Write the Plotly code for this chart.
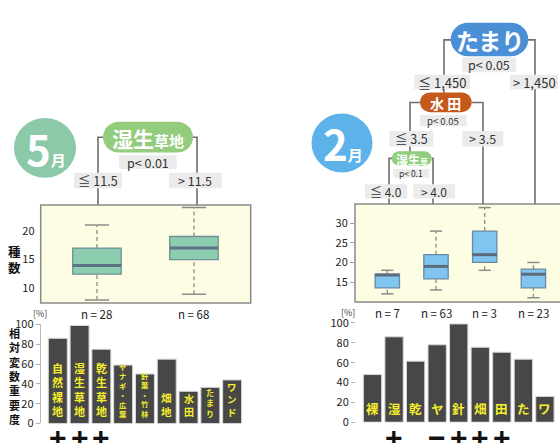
import plotly.graph_objects as go

W, H = 560, 443

# ---- May: species count by wet-grassland split ----
may_n = ["n = 28", "n = 68"]
may_pos = [1, 2]
may_low = [8, 9]
may_q1 = [12.5, 15]
may_med = [14, 17]
may_q3 = [17, 19]
may_high = [21, 24]

# ---- February: species count by tree leaves ----
feb_n = ["n = 7", "n = 63", "n = 3", "n = 23"]
feb_pos = [1, 2, 3, 4]
feb_low = [12, 13, 18, 11]
feb_q1 = [13.5, 15.8, 20, 13.5]
feb_med = [16.8, 19, 22, 17]
feb_q3 = [17, 22, 28, 18.3]
feb_high = [18, 28, 34, 20]

# ---- relative variable importance [%] ----
may_vars = ["自然裸地", "湿生草地", "乾生草地", "ヤナギ・広葉", "針葉・竹林", "畑地", "水田", "たまり", "ワンド"]
may_imp = [86, 99, 75, 59, 50, 65, 32.5, 36.5, 44]
may_sign = ["+", "+", "+", "", "", "", "", "", ""]

feb_vars = ["裸", "湿", "乾", "ヤ", "針", "畑", "田", "た", "ワ"]
feb_imp = [48, 86, 61.5, 78, 99, 75.5, 70.5, 63.5, 26]
feb_sign = ["", "+", "", "−", "+", "+", "+", "", ""]

# font sizes of the vertical names inside the May bars
may_label_size = [11, 11, 11, 7.3, 7.3, 10.5, 10, 8, 9.5]

FONT = "Noto Sans CJK JP"
YELLOW = "#f4ee2c"


def px(x):
    return x / W


def py(y):
    return 1 - y / H


fig = go.Figure()


def add_boxes(pos, lo, q1, med, q3, hi, fill, edge, medc, xa, ya, half=0.25):
    fig.add_trace(go.Box(
        x=pos, q1=q1, median=med, q3=q3, lowerfence=q1, upperfence=q3,
        width=2 * half, whiskerwidth=0, fillcolor=fill,
        line=dict(color=edge, width=1.3), boxpoints=False,
        hoverinfo="skip", xaxis=xa, yaxis=ya))
    wx, wy, cx, cy, mx, my = [], [], [], [], [], []
    cap = half * 0.5
    for p, a, b, m, c, d in zip(pos, lo, q1, med, q3, hi):
        wx += [p, p, None, p, p, None]
        wy += [a, b, None, c, d, None]
        cx += [p - cap, p + cap, None, p - cap, p + cap, None]
        cy += [a, a, None, d, d, None]
        mx += [p - half, p + half, None]
        my += [m, m, None]
    fig.add_trace(go.Scatter(x=wx, y=wy, mode="lines", xaxis=xa, yaxis=ya,
                             line=dict(color="#8c8c8c", width=1.3, dash="4px,3px"),
                             hoverinfo="skip"))
    fig.add_trace(go.Scatter(x=cx, y=cy, mode="lines", xaxis=xa, yaxis=ya,
                             line=dict(color="#8c8c8c", width=1.5), hoverinfo="skip"))
    fig.add_trace(go.Scatter(x=mx, y=my, mode="lines", xaxis=xa, yaxis=ya,
                             line=dict(color=medc, width=3), hoverinfo="skip"))


add_boxes(may_pos, may_low, may_q1, may_med, may_q3, may_high,
          "#8dceb0", "#6f8f98", "#5d7383", "x", "y")
add_boxes(feb_pos, feb_low, feb_q1, feb_med, feb_q3, feb_high,
          "#80c4f0", "#6a8aa2", "#5c6c7c", "x3", "y3")

fig.add_trace(go.Bar(x=list(range(len(may_imp))), y=may_imp, width=0.87,
                     marker=dict(color="#474747", line=dict(color="#d8d8d8", width=1)),
                     xaxis="x2", yaxis="y2", hoverinfo="skip"))
fig.add_trace(go.Bar(x=list(range(len(feb_imp))), y=feb_imp, width=0.85,
                     marker=dict(color="#474747", line=dict(color="#d8d8d8", width=1)),
                     xaxis="x4", yaxis="y4", hoverinfo="skip"))

tickfont = dict(family=FONT, size=11, color="#222")
hidden_x = dict(showticklabels=False, showgrid=False, zeroline=False, showline=False, ticks="")

fig.update_layout(
    width=W, height=H, margin=dict(l=0, r=0, t=0, b=0),
    paper_bgcolor="white", plot_bgcolor="rgba(0,0,0,0)", showlegend=False,
    font=dict(family=FONT),
    xaxis=dict(domain=[px(40.7), px(250.7)], range=[0.42, 2.585], anchor="y", **hidden_x),
    yaxis=dict(domain=[py(305), py(203.3)], range=[7.5, 24.45], tickvals=[10, 15, 20], anchor="x",
               showgrid=False, zeroline=False, ticks="outside", ticklen=3,
               tickcolor="rgba(0,0,0,0)", tickfont=tickfont),
    xaxis2=dict(domain=[px(40.7), px(250)], range=[-0.784, 8.82], anchor="y2", **hidden_x),
    yaxis2=dict(domain=[py(430), py(327.3)], range=[0, 100], tickvals=[0, 20, 40, 60, 80, 100],
                anchor="x2", showgrid=False, zeroline=False, showline=True, linecolor="#b8b8b8",
                linewidth=1, ticks="outside", ticklen=4, tickcolor="#b0b0b0", tickfont=tickfont),
    xaxis3=dict(domain=[px(355), 1], range=[0.337, 4.546], anchor="y3", **hidden_x),
    yaxis3=dict(domain=[py(304), py(202.3)], range=[9.91, 34.92], tickvals=[15, 20, 25, 30],
                anchor="x3", showgrid=False, zeroline=False, ticks="outside", ticklen=4,
                tickcolor="#a0a0a0", tickfont=tickfont),
    xaxis4=dict(domain=[px(356), 1], range=[-0.766, 8.70], anchor="y4", **hidden_x),
    yaxis4=dict(domain=[py(428.7), py(325.7)], range=[0, 100], tickvals=[0, 20, 40, 60, 80, 100],
                anchor="x4", showgrid=False, zeroline=False, showline=False,
                ticks="outside", ticklen=4, tickcolor="#b0b0b0", tickfont=tickfont),
)

shapes = []
annotations = []


def note(**kw):
    kw.setdefault("showarrow", False)
    kw.setdefault("xanchor", "center")
    kw.setdefault("yanchor", "middle")
    annotations.append(kw)


# cream panels behind the box plots
shapes.append(dict(type="rect", xref="x domain", yref="y domain", x0=0, x1=1, y0=0, y1=1,
                   fillcolor="#fdfde3", line=dict(color="#8a8a8a", width=1.5), layer="below"))
shapes.append(dict(type="rect", xref="x3 domain", yref="y3 domain", x0=0, x1=1.1, y0=0, y1=1,
                   fillcolor="#fdfde3", line=dict(color="#8a8a8a", width=1.5), layer="below"))

# tree branches (pixel paths)
branches = [
    [(103, 133), (98, 133), (98, 203)],
    [(193, 133), (197, 133), (197, 203)],
    [(451, 32), (444, 32), (444, 87)],
    [(528, 32), (535, 32), (535, 202)],
    [(420, 97), (410, 97), (410, 148)],
    [(472, 97), (483, 97), (483, 202)],
    [(392, 155), (389, 155), (389, 202)],
    [(432, 155), (433, 155), (433, 202)],
]
for pts in branches:
    path = "M " + " L ".join(f"{px(x):.5f},{py(y):.5f}" for x, y in pts)
    shapes.append(dict(type="path", xref="paper", yref="paper", path=path,
                       line=dict(color="#6e6e6e", width=1.6), layer="above"))

# split condition labels: (x0, y0, x1, y1, text, size)
split_labels = [
    (119, 151.7, 176.7, 166, "p< 0.01", 12.5),
    (74, 170, 122, 186, "≦ 11.5", 12.5),
    (169, 170, 221.7, 186, "> 11.5", 12.5),
    (462.3, 50, 516, 65.7, "p< 0.05", 12.5),
    (414.3, 68.3, 470, 83.3, "≦ 1,450", 13),
    (510, 68.3, 558, 83.3, "> 1,450", 13),
    (420, 110, 466.7, 121.7, "p< 0.05", 9.5),
    (389.3, 126.7, 433.3, 142.7, "≦ 3.5", 12.5),
    (462.3, 126.7, 503.3, 142.7, "> 3.5", 12.5),
    (393.3, 166, 429.3, 175, "p< 0.1", 8.5),
    (365, 181.7, 407.3, 196.7, "≦ 4.0", 12),
    (413.3, 181.7, 455, 196.7, "> 4.0", 12),
]
for x0, y0, x1, y1, t, s in split_labels:
    shapes.append(dict(type="rect", xref="paper", yref="paper",
                       x0=px(x0), x1=px(x1), y0=py(y1), y1=py(y0),
                       fillcolor="#ebebeb", line=dict(width=0), layer="above"))
    note(xref="paper", yref="paper", x=px((x0 + x1) / 2), y=py((y0 + y1) / 2),
         text=t, font=dict(family=FONT, size=s, color="#333"))


def pill(x0, y0, x1, y1):
    r = (y1 - y0) / 2
    ym = (y0 + y1) / 2
    k = 0.5523 * r
    pts = [
        ("M", [(x0 + r, y0)]),
        ("L", [(x1 - r, y0)]),
        ("C", [(x1 - r + k, y0), (x1, ym - k), (x1, ym)]),
        ("C", [(x1, ym + k), (x1 - r + k, y1), (x1 - r, y1)]),
        ("L", [(x0 + r, y1)]),
        ("C", [(x0 + r - k, y1), (x0, ym + k), (x0, ym)]),
        ("C", [(x0, ym - k), (x0 + r - k, y0), (x0 + r, y0)]),
    ]
    s = ""
    for cmd, ps in pts:
        s += cmd + " " + " ".join(f"{px(x):.5f},{py(y):.5f}" for x, y in ps) + " "
    return s + "Z"


# node pills: (x0, y0, x1, y1, colour, html text, base size)
nodes = [
    (103, 117, 193, 149, "#93cc7c",
     "<b>湿生</b><span style='font-size:15px'><b>草地</b></span>", 21),
    (450.7, 14.3, 528.3, 49, "#4b90d6", "<b>たまり</b>", 23),
    (420, 86.7, 471.7, 107, "#c5581a", "<b>水 田</b>", 14),
    (391.7, 147.7, 431.7, 162.7, "#8fcf7e",
     "<b>湿生</b><span style='font-size:8px'><b>草</b></span>", 12),
]
for x0, y0, x1, y1, col, t, s in nodes:
    shapes.append(dict(type="path", xref="paper", yref="paper", path=pill(x0, y0, x1, y1),
                       fillcolor=col, line=dict(width=0), layer="above"))
    note(xref="paper", yref="paper", x=px((x0 + x1) / 2), y=py((y0 + y1) / 2 + 1),
         text=t, font=dict(family=FONT, size=s, color="white"))

# month badges
for cx, cy, r, col, num in [(45, 144, 31, "#8bc9a9", "5"), (342, 139, 30.5, "#5eb2ea", "2")]:
    shapes.append(dict(type="circle", xref="paper", yref="paper",
                       x0=px(cx - r), x1=px(cx + r), y0=py(cy + r), y1=py(cy - r),
                       fillcolor=col, line=dict(width=0), layer="above"))
    note(xref="paper", yref="paper", x=px(cx + 1), y=py(cy),
         text=f"<b>{num}</b><span style='font-size:15px'><b>月</b></span>",
         font=dict(family=FONT, size=42, color="white"))

# axis titles
note(xref="paper", yref="paper", x=px(14), y=py(260), text="<b>種<br>数</b>",
     font=dict(family=FONT, size=12.5, color="#111"))
note(xref="paper", yref="paper", x=px(14), y=py(381),
     text="<b>" + "<br>".join("相対変数重要度") + "</b>",
     font=dict(family=FONT, size=11, color="#111"))
for x, y in [(40, 316), (348, 315)]:
    note(xref="paper", yref="paper", x=px(x), y=py(y), text="[%]",
         font=dict(family=FONT, size=9, color="#444"))

# group sizes under each box
for pos, n in zip(may_pos, may_n):
    note(xref="x", yref="paper", x=pos, y=py(316), text=n,
         font=dict(family=FONT, size=11.5, color="#222"))
for pos, n in zip(feb_pos, feb_n):
    note(xref="x3", yref="paper", x=pos, y=py(315), text=n,
         font=dict(family=FONT, size=11.5, color="#222"))

# vertical variable names inside the bars
for i, (name, size) in enumerate(zip(may_vars, may_label_size)):
    note(xref="x2", yref="y2", x=i, y=0, yanchor="bottom", yshift=2,
         text="<b>" + "<br>".join(name) + "</b>",
         font=dict(family=FONT, size=size, color=YELLOW))
for i, name in enumerate(feb_vars):
    note(xref="x4", yref="y4", x=i, y=0, yanchor="bottom", yshift=2,
         text="<b>" + name + "</b>", font=dict(family=FONT, size=12.5, color=YELLOW))

# effect direction under the bars
for xa, signs in [("x2", may_sign), ("x4", feb_sign)]:
    for i, s in enumerate(signs):
        if s:
            note(xref=xa, yref="paper", x=i, y=py(445), text=f"<b>{s}</b>",
                 font=dict(family="Liberation Sans", size=30, color="#111"))

fig.update_layout(shapes=shapes, annotations=annotations)
fig.write_html("out.html")
